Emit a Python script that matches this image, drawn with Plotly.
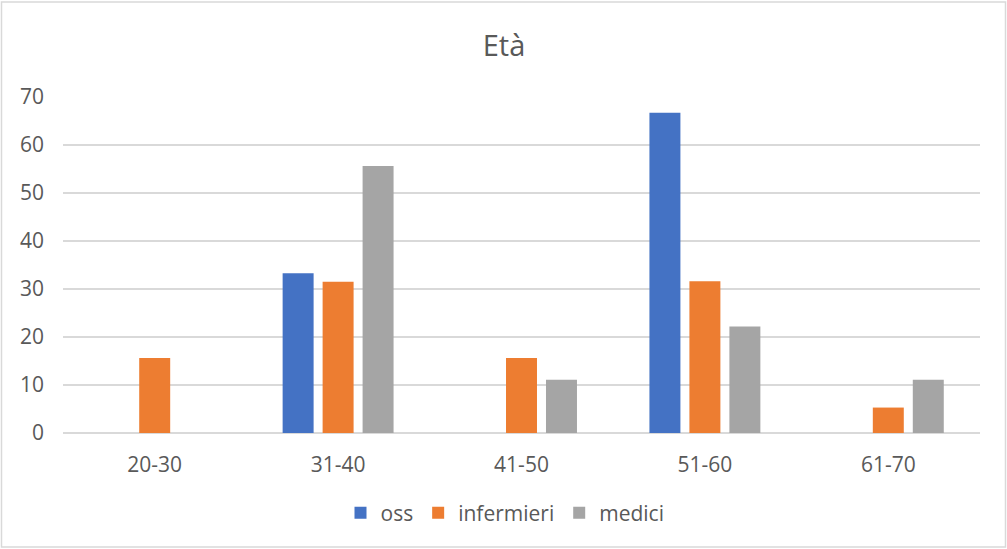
import plotly.graph_objects as go

categories = ["20-30", "31-40", "41-50", "51-60", "61-70"]
oss = [None, 33.3, None, 66.7, None]
infermieri = [15.6, 31.5, 15.6, 31.6, 5.3]
medici = [None, 55.6, 11.1, 22.2, 11.1]
y_ticks = [0, 10, 20, 30, 40, 50, 60, 70]

W, H = 1007, 549
L, R, T, B = 63, 27, 97, 116
pw, ph = W - L - R, H - T - B

font_color = "#595959"
font_family = "Open Sans, Noto Sans, sans-serif"

fig = go.Figure()
fig.add_trace(go.Bar(name="oss", x=categories, y=oss, marker_color="#4472C4", marker_line_width=0))
fig.add_trace(go.Bar(name="infermieri", x=categories, y=infermieri, marker_color="#ED7D31", marker_line_width=0))
fig.add_trace(go.Bar(name="medici", x=categories, y=medici, marker_color="#A5A5A5", marker_line_width=0))

fig.update_layout(
    width=W, height=H,
    margin=dict(l=L, r=R, t=T, b=B),
    paper_bgcolor="white", plot_bgcolor="white",
    barmode="group", bargap=0.346, bargroupgap=0.225,
    font=dict(family=font_family, color=font_color, size=21),
    title=dict(text="Età", x=504 / W, xref="container", xanchor="center",
               y=1 - 46 / H, yref="container", yanchor="middle",
               font=dict(size=29, color=font_color, family=font_family)),
    showlegend=True,
    legend=dict(orientation="h", x=(505 - L) / pw, xanchor="center",
                y=-(513 - (T + ph)) / ph, yanchor="middle",
                font=dict(size=21, color=font_color), itemwidth=30,
                traceorder="normal"),
    xaxis=dict(showgrid=False, showline=False, zeroline=False, ticks="",
               ticklabelstandoff=17, tickfont=dict(size=21, color=font_color)),
    yaxis=dict(range=[0, 70], tickvals=y_ticks, showgrid=True, gridcolor="#D9D9D9",
               gridwidth=1.5, zeroline=True, zerolinecolor="#D9D9D9", zerolinewidth=1.5,
               showline=False, ticks="", ticklabelstandoff=18,
               tickfont=dict(size=21, color=font_color)),
    shapes=[dict(type="rect", xref="paper", yref="paper",
                 x0=(1.5 - L) / pw, x1=(1005.5 - L) / pw,
                 y0=-(547 - (T + ph)) / ph, y1=1 + (T - 2) / ph,
                 line=dict(color="#D9D9D9", width=1.5), fillcolor="rgba(0,0,0,0)", layer="below")],
)

fig.write_html("out.html")
